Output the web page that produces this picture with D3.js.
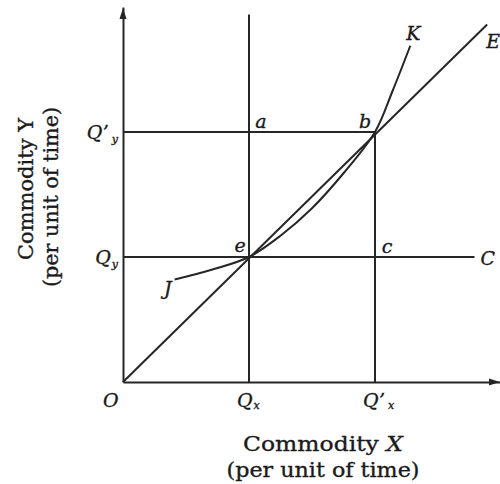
<!DOCTYPE html>
<html>
<head>
<meta charset="utf-8">
<script src="https://cdn.jsdelivr.net/npm/d3@7"></script>
<style>
  body { margin: 0; background: #fff; }
  svg { display: block; }
  text { font-family: "DejaVu Serif", serif; fill: #1a1a1a; stroke: #1a1a1a; stroke-width: 0.35px; }
</style>
</head>
<body>
<div id="chart"></div>
<script>
// quantities in units of Qx (x) and Qy (y)
const xTickLabels = [
  { v: 0, main: "O", sub: "" },
  { v: 1, main: "Q", sub: "x" },
  { v: 2, main: "Q’", sub: "x" },
]
const yTickLabels = [
  { v: 1, main: "Q", sub: "y" },
  { v: 2, main: "Q’", sub: "y" },
]

// straight line OE (constant returns ray)
const rayOE = [[0, 0], [2.89, 2.86]]

// curve J-e-b-K
const curveJK = [
  [0.41, 0.82], [0.71, 0.90], [1, 1], [1.25, 1.17], [1.5, 1.39],
  [1.75, 1.67], [2, 2], [2.14, 2.33], [2.28, 2.69]
]

// helper lines
const guideLines = [
  [[0, 1], [2.79, 1]],   // Qy ... C
  [[0, 2], [2, 2]],      // Q'y ... b
  [[1, 0], [1, 2.94]],   // Qx up
  [[2, 0], [2, 2]],      // Q'x ... b
]

const pointLabels = [
  { name: "a", at: [1, 2] },
  { name: "b", at: [2, 2] },
  { name: "e", at: [1, 1] },
  { name: "c", at: [2, 1] },
  { name: "C", at: [2.79, 1] },
  { name: "J", at: [0.41, 0.82] },
  { name: "K", at: [2.28, 2.69] },
  { name: "E", at: [2.89, 2.86] },
]

const xTitle = [["Commodity ", "X"], ["(per unit of time)", ""]]
const yTitle = ["Commodity Y", "(per unit of time)"]

const width = 500, height = 484

const svg = d3.select("#chart").append("svg")
  .attr("width", width)
  .attr("height", height)

const x = d3.scaleLinear().domain([0, 3]).range([123, 501])
const y = d3.scaleLinear().domain([0, 3]).range([382, 7])

const ink = "#262626"

// axes (no ticks, just the lines)
svg.append("g")
  .attr("transform", `translate(0,${y(0)})`)
  .call(d3.axisBottom(x).tickValues([]).tickSizeOuter(0))
  .select(".domain").attr("stroke", ink).attr("stroke-width", 2)
svg.append("g")
  .attr("transform", `translate(${x(0)},0)`)
  .call(d3.axisLeft(y).tickValues([]).tickSizeOuter(0))
  .select(".domain").attr("stroke", ink).attr("stroke-width", 2)

// arrow heads
svg.append("path")
  .attr("d", `M${x(0)},${y(3) + 1} l-3.5,11 l7,0 z`)
  .attr("fill", ink)
svg.append("path")
  .attr("d", `M${x(3) - 1},${y(0)} l-11,-3.5 l0,7 z`)
  .attr("fill", ink)

const line = d3.line().x(d => x(d[0])).y(d => y(d[1]))

svg.selectAll(".guide")
  .data(guideLines)
  .join("path")
  .attr("class", "guide")
  .attr("d", line)
  .attr("fill", "none")
  .attr("stroke", ink)
  .attr("stroke-width", 2)

svg.append("path")
  .attr("d", line(rayOE))
  .attr("fill", "none")
  .attr("stroke", ink)
  .attr("stroke-width", 2)

svg.append("path")
  .attr("d", line.curve(d3.curveCatmullRom.alpha(0.5))(curveJK))
  .attr("fill", "none")
  .attr("stroke", ink)
  .attr("stroke-width", 2)

// label offsets in px from the point they name
const offsets = {
  a: [12, -4, "middle"], b: [-10, -4, "middle"], e: [-9, -5, "middle"],
  c: [12, -4, "middle"], C: [6, 8, "start"], J: [-3, 15, "end"],
  K: [3, -6, "middle"], E: [-1, 23, "start"]
}

svg.selectAll(".pt")
  .data(pointLabels)
  .join("text")
  .attr("class", "pt")
  .attr("x", d => x(d.at[0]) + offsets[d.name][0])
  .attr("y", d => y(d.at[1]) + offsets[d.name][1])
  .attr("text-anchor", d => offsets[d.name][2])
  .attr("font-style", "italic")
  .attr("font-size", 19)
  .text(d => d.name)

// tick-like labels with subscripts
const xt = svg.selectAll(".xt")
  .data(xTickLabels)
  .join("text")
  .attr("class", "xt")
  .attr("x", d => d.v === 0 ? x(0) - 20 : x(d.v) - 12)
  .attr("y", y(0) + 25)
  .attr("font-style", "italic")
  .attr("font-size", 19)
xt.append("tspan").text(d => d.main)
xt.append("tspan")
  .attr("font-size", 11)
  .attr("dx", d => d.main === "Q’" ? 3 : 1)
  .attr("dy", 2)
  .text(d => d.sub)

const yt = svg.selectAll(".yt")
  .data(yTickLabels)
  .join("text")
  .attr("class", "yt")
  .attr("x", x(0) - 5)
  .attr("y", d => y(d.v) + 7)
  .attr("text-anchor", "end")
  .attr("font-style", "italic")
  .attr("font-size", 19)
yt.append("tspan").text(d => d.main)
yt.append("tspan")
  .attr("font-size", 11)
  .attr("dx", d => d.main === "Q’" ? 3 : 1)
  .attr("dy", 4)
  .text(d => d.sub)

// axis titles
const xTitleLen = [160, 193]
const xtt = svg.selectAll(".xtitle")
  .data(xTitle)
  .join("text")
  .attr("class", "xtitle")
  .attr("x", 323)
  .attr("y", (d, i) => 451 + i * 26)
  .attr("text-anchor", "middle")
  .attr("font-size", 21)
  .attr("textLength", (d, i) => xTitleLen[i])
  .attr("lengthAdjust", "spacingAndGlyphs")
xtt.append("tspan").text(d => d[0])
xtt.append("tspan").attr("font-style", "italic").text(d => d[1])

const yTitleLen = [142, 180]
svg.selectAll(".ytitle")
  .data(yTitle)
  .join("text")
  .attr("class", "ytitle")
  .attr("transform", (d, i) => `translate(${33 + i * 25},${189 + i * 8}) rotate(-90)`)
  .attr("text-anchor", "middle")
  .attr("font-size", 20)
  .attr("textLength", (d, i) => yTitleLen[i])
  .attr("lengthAdjust", "spacingAndGlyphs")
  .text(d => d)
</script>
</body>
</html>
